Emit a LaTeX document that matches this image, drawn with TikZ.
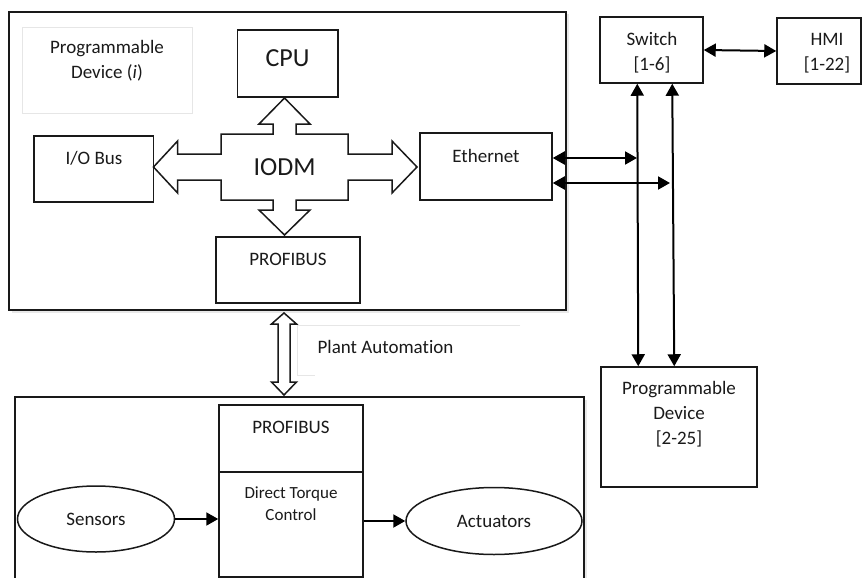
\documentclass[tikz,border=0pt]{standalone}
\usepackage{fontspec}
\setmainfont[Ligatures=NoCommon]{Carlito}
\usetikzlibrary{arrows.meta,shapes.geometric,shadows}
\definecolor{txtc}{HTML}{1A1A1A}
\definecolor{faint}{HTML}{E6E6E6}
\tikzset{
  bigbox/.style={draw=black!90, line width=2pt, fill=white, rectangle, inner sep=0pt,
     drop shadow={opacity=0.18, shadow xshift=2.5pt, shadow yshift=-2.5pt}},
  box/.style={draw=black!90, line width=1.5pt, fill=white, rectangle, inner sep=0pt},
  ell/.style={draw=black!90, line width=1.5pt, ellipse, inner sep=0pt},
  txt/.style={text=txtc, font=\fontsize{19}{25}\selectfont, align=center, inner sep=0pt},
  bigtxt/.style={text=txtc, font=\fontsize{26}{30}\selectfont, align=center, inner sep=0pt},
  smtxt/.style={text=txtc, font=\fontsize{17}{22}\selectfont, align=center, inner sep=0pt},
  conn/.style={line width=2pt, draw=black, {Triangle[length=12pt,width=13pt]}-{Triangle[length=12pt,width=13pt]}},
  oneway/.style={line width=2pt, draw=black, -{Triangle[length=12pt,width=13pt]}},
  fat/.style={draw=black!90, line width=1.5pt, fill=white, line join=miter},
}
\begin{document}
\begin{tikzpicture}[x=1pt,y=-1pt]
\path[use as bounding box, clip] (0,0) rectangle (862,578);
\fill[white] (0,0) rectangle (862,578);

% ---------- upper programmable device ----------
\node[bigbox, minimum width=557pt, minimum height=298pt] (dev1) at (287.5,161) {};
\node[draw=faint, line width=0.8pt, minimum width=170pt, minimum height=86pt, inner sep=0pt] (pdibox) at (107,70) {};
\node[txt] (pditxt) at (107,60.5) {Programmable\\Device (\textit{i})};

\node[box, minimum width=100.5pt, minimum height=67pt] (cpu) at (287.75,63.5) {};
\node[bigtxt] (cputxt) at (287.5,58) {CPU};

\node[box, minimum width=119.5pt, minimum height=66pt] (io) at (93.75,169) {};
\node[txt] (iotxt) at (94,158) {I/O Bus};

\node[box, minimum width=132pt, minimum height=67pt] (eth) at (486,166.5) {};
\node[txt] (ethtxt) at (486,156) {Ethernet};

\node[box, minimum width=144pt, minimum height=66pt] (pb1) at (288,270) {};
\node[txt] (pb1txt) at (288,259) {PROFIBUS};

% IODM cross arrow
\draw[fat] (284.5,98) -- (310,124) -- (296,124) -- (296,134) -- (348,134) -- (348,154)
  -- (392,154) -- (392,141) -- (417,167) -- (392,193) -- (392,180) -- (348,180)
  -- (348,200) -- (296,200) -- (296,210) -- (310,210) -- (284.5,235) -- (259,210)
  -- (273,210) -- (273,200) -- (221,200) -- (221,180) -- (177.6,180) -- (177.6,193)
  -- (153.5,167) -- (177.6,141) -- (177.6,154) -- (221,154) -- (221,134) -- (273,134)
  -- (273,124) -- (259,124) -- cycle;
\node[bigtxt] (iodm) at (284.5,167) {IODM};

% ---------- network ----------
\node[box, minimum width=103pt, minimum height=66pt] (sw) at (651.5,50) {};
\node[txt] (swtxt) at (652,53) {Switch\\{[1-6]}};

\node[box, minimum width=84pt, minimum height=66pt] (hmi) at (819,51) {};
\node[txt] (hmitxt) at (827,53.5) {HMI\\{[1-22]}};

\node[box, minimum width=156pt, minimum height=120pt] (pd2) at (679,427) {};
\node[txt] (pd2txt) at (679,414.5) {Programmable\\Device\\{[2-25]}};

\draw[conn] (sw.east) -- (hmi.west);

\coordinate (e1) at (637,158);
\coordinate (e2) at (670,183);
\draw[conn] (eth.east |- e1) -- (e1);
\draw[conn] (eth.east |- e2) -- (e2);

\draw[conn] ([xshift=38pt]sw.south west) -- ([xshift=38pt]pd2.north west);
\draw[conn] ([xshift=73pt]sw.south west) -- ([xshift=74pt]pd2.north west);

% ---------- plant automation ----------
\draw[faint, line width=0.8pt] (520,325) -- (297,325) -- (297,375) -- (315,375);
\node[txt] (plant) at (385.5,347) {Plant Automation};

% ---------- lower device ----------
\node[bigbox, minimum width=569pt, minimum height=210pt] (dev2) at (299.5,502) {};

\draw[fat] (284,313) -- (296.5,324) -- (290,324) -- (290,382) -- (296.5,382) -- (284,395)
  -- (271.5,382) -- (278,382) -- (278,324) -- (271.5,324) -- cycle;

\node[box, minimum width=144pt, minimum height=67pt] (pb2) at (291,438.5) {};
\node[txt] (pb2txt) at (291,427) {PROFIBUS};

\node[box, minimum width=144pt, minimum height=105pt] (dtc) at (291,524.5) {};
\node[smtxt] (dtctxt) at (291,504) {Direct Torque\\Control};

\node[ell, minimum width=157pt, minimum height=66pt] (sens) at (96,519) {};
\node[txt] (senstxt) at (96,519) {Sensors};

\node[ell, minimum width=176pt, minimum height=67pt] (act) at (494,521) {};
\node[txt] (acttxt) at (494,521) {Actuators};

\draw[oneway] (sens.east) -- (dtc.west |- sens.east);
\draw[oneway] (dtc.east |- act.west) -- (act.west);
\end{tikzpicture}
\end{document}
